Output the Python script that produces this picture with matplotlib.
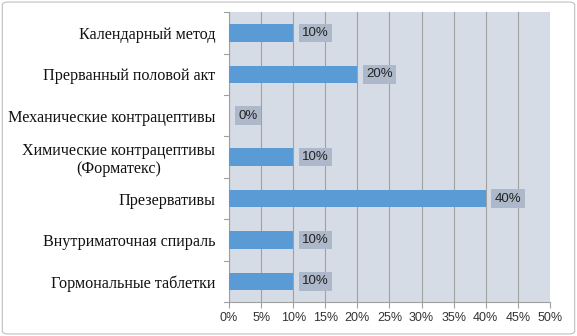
import matplotlib.pyplot as plt
from matplotlib.patches import FancyBboxPatch
import numpy as np

categories = ["Календарный метод", "Прерванный половой акт", "Механические контрацептивы",
              "Химические контрацептивы\n(Форматекс)", "Презервативы",
              "Внутриматочная спираль", "Гормональные таблетки"]
values = [10, 20, 0, 10, 40, 10, 10]
xticks = [0, 5, 10, 15, 20, 25, 30, 35, 40, 45, 50]

fig = plt.figure(figsize=(5.77, 3.36), dpi=100)
fig.patch.set_facecolor("white")
ax = fig.add_axes([0.397, 0.101, 0.556, 0.863])
ax.set_facecolor("#D6DCE5")

y = np.arange(len(categories))[::-1]
ax.barh(y, values, height=0.42, color="#5B9BD5", zorder=3)
ax.set_ylim(-0.5, len(categories) - 0.5)
ax.set_xlim(0, 50)
ax.set_xticks(xticks)
ax.set_xticklabels([f"{t}%" for t in xticks], fontfamily="Liberation Sans", fontsize=9, color="#333333")
ax.set_yticks(y)
ax.set_yticklabels(categories, fontfamily="Liberation Serif", fontsize=11.6, color="#111111",
                   ha="right", multialignment="center")
ax.yaxis.set_tick_params(length=0, pad=10)
for yy in np.arange(-0.5, len(categories), 1):
    ax.plot([-0.8, 0], [yy, yy], color="#A0A0A0", lw=0.8, clip_on=False, zorder=4)
ax.xaxis.set_tick_params(length=4, color="#A0A0A0", width=0.8)
ax.grid(axis="x", color="#A0A0A0", lw=0.8, zorder=1)
for s in ["top", "right"]:
    ax.spines[s].set_visible(False)
for s in ["left", "bottom"]:
    ax.spines[s].set_color("#A0A0A0")
    ax.spines[s].set_linewidth(0.8)

for yy, v in zip(y, values):
    ax.annotate(f"{v}%", xy=(v, yy), xytext=(6.5, 0), textcoords="offset points",
                va="center", ha="left", fontsize=9.5, fontfamily="Liberation Sans", color="#222222",
                bbox=dict(boxstyle="square,pad=0.25", fc="#ADB9CA", ec="none"), zorder=5)

border = FancyBboxPatch((0.004, 0.006), 0.992, 0.988, boxstyle="round,pad=0,rounding_size=0.01",
                        transform=fig.transFigure, fc="none", ec="#BFBFBF", lw=0.8)
fig.patches.append(border)

fig.savefig("out.png", dpi=100)
